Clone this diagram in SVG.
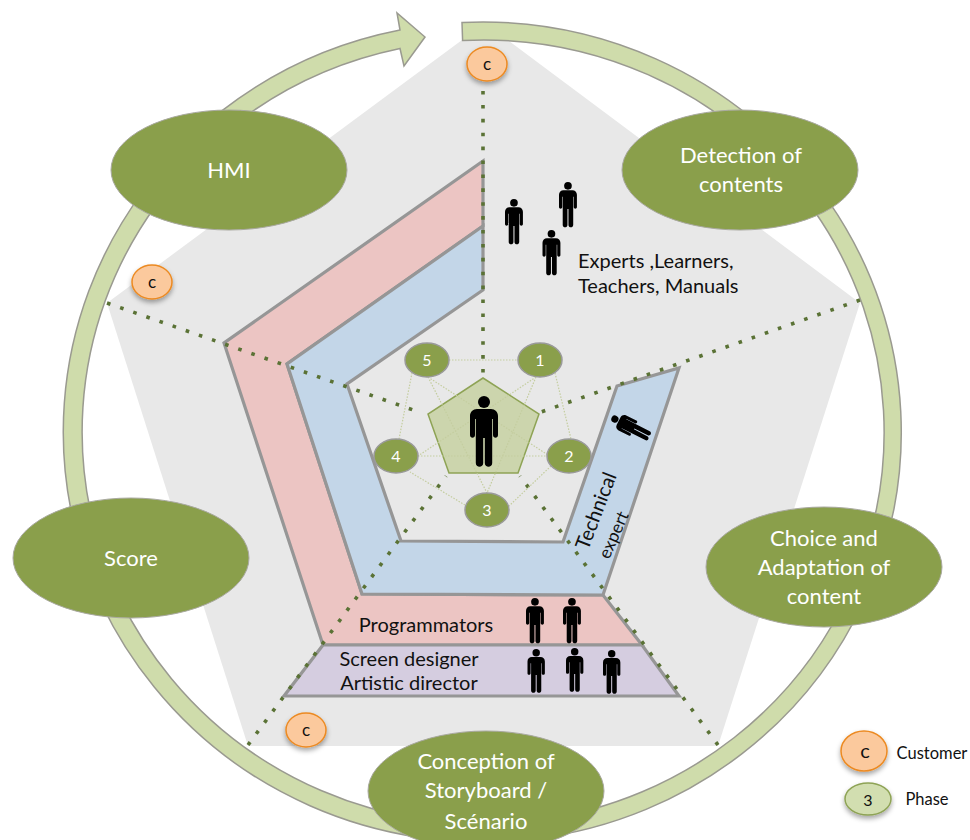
<svg xmlns="http://www.w3.org/2000/svg" width="970" height="840" viewBox="0 0 970 840">
<style>
text{font-family:Lato,"Liberation Sans",sans-serif;text-anchor:middle;fill:#111}
.big{fill:#8a9f4b;stroke:#a9a9a0;stroke-width:1}
.bigt{fill:#fff;font-size:22px}
.small{fill:#8a9f4b;stroke:#9a9a9a;stroke-width:1.5}
.smallt{fill:#fff;font-size:16px}
.cust{fill:#fbc99d;stroke:#ec8a22;stroke-width:1.5;filter:url(#sh)}
.band{stroke:#969696;stroke-width:3.2;stroke-linejoin:miter}
.lbl{font-size:20px}
.dots{fill:none;stroke:#5a7235;stroke-width:3.6;stroke-dasharray:3.6 10.3}
.thin{fill:none;stroke:#c4cd9f;stroke-width:1.2;stroke-dasharray:1.5 1.5}
</style>
<defs>
<filter id="sh" x="-30%" y="-30%" width="160%" height="170%"><feDropShadow dx="0" dy="3" stdDeviation="2.5" flood-color="#000" flood-opacity=".35"/></filter>
<g id="man">
<circle cx="14" cy="6" r="6" fill="#000"/>
<path fill="#000" d="M7,13H21C25,13 28,16 28,20V39C28,42.500 23,42.500 23,39V23H22.200V67C22.200,72 14.800,72 14.800,67V42H13.200V67C13.200,72 5.800,72 5.800,67V23H5V39C5,42.500 0,42.500 0,39V20C0,16 3,13 7,13Z"/>
</g>
</defs>
<polygon id="backdrop" fill="#e8e8e8" points="485,23 860,303 718,746 248,746 107,303"/>
<g id="cycle-arrow"><path fill="#cfdcab" stroke="#9a9a90" stroke-width="1.5" d="M462,22.500A419,410 0 1 1 400,30L397,13L425,37L404,66L400,48.500A401,392 0 1 0 462.600,40.500Z"/></g>
<g id="band-pink"><polygon class="band" fill="#ecc5c3" points="483,161 224,343 323,645 642,645 603,595 362,594 287,364 483,226"/></g>
<g id="band-blue"><polygon class="band" fill="#c3d6e8" points="483,226 287,364 362,594 603,595 679,368 617,386 563,542 401,541 347,384 483,290"/></g>
<g id="band-purple"><polygon class="band" fill="#d5cde0" points="323,645 284,696 679,696 642,645"/></g>
<g id="connectors">
<path class="dots" d="M483,91V376"/>
<path class="dots" d="M860,300L541,412"/>
<path class="dots" d="M718,745L520,476"/>
<path class="dots" d="M248,745L446,476"/>
<path class="dots" d="M107,303L419,412"/>
</g>
<g id="center"><polygon fill="#ccd5ad" stroke="#8ea355" stroke-width="1.5" points="483,378 539,414 518,473 449,473 428,414"/></g>
<g id="phase-links"><path class="thin" d="M449,360H518M555,373L571,439M551,466L509,506M465,505L410,472M399,439L412,373M428,377L487,493M428,377L548,455M536,377L487,493M536,377L418,456M418,456H547"/></g>
<g id="center-person"><use href="#man" x="470" y="396"/></g>
<g id="phase-1"><ellipse class="small" cx="540" cy="360" rx="22" ry="17"/><text class="smallt" x="540" y="366">1</text></g>
<g id="phase-2"><ellipse class="small" cx="569" cy="456" rx="22" ry="17"/><text class="smallt" x="569" y="462">2</text></g>
<g id="phase-3"><ellipse class="small" cx="487" cy="510" rx="22" ry="17"/><text class="smallt" x="487" y="516">3</text></g>
<g id="phase-4"><ellipse class="small" cx="396" cy="456" rx="22" ry="17"/><text class="smallt" x="396" y="462">4</text></g>
<g id="phase-5"><ellipse class="small" cx="427" cy="360" rx="22" ry="17"/><text class="smallt" x="427" y="366">5</text></g>
<g id="hmi"><ellipse class="big" cx="229" cy="170" rx="118" ry="60"/><text class="bigt" x="229" y="178">HMI</text></g>
<g id="detection"><ellipse class="big" cx="740" cy="170" rx="118" ry="60"/><text class="bigt" x="741" y="163">Detection of</text><text class="bigt" x="741" y="192">contents</text></g>
<g id="choice"><ellipse class="big" cx="824" cy="567" rx="118" ry="60"/><text class="bigt" x="824" y="546">Choice and</text><text class="bigt" x="824" y="575">Adaptation of</text><text class="bigt" x="824" y="604">content</text></g>
<g id="score"><ellipse class="big" cx="131" cy="558" rx="118" ry="60"/><text class="bigt" x="131" y="566">Score</text></g>
<g id="conception"><ellipse class="big" cx="486" cy="791" rx="118" ry="60"/><text class="bigt" x="486" y="769">Conception of</text><text class="bigt" x="486" y="798">Storyboard /</text><text class="bigt" x="486" y="829">Scénario</text></g>
<g id="customer-top"><ellipse class="cust" cx="487" cy="64" rx="20" ry="17"/><text x="487" y="70" font-size="17">c</text></g>
<g id="customer-left"><ellipse class="cust" cx="152" cy="282" rx="20" ry="17"/><text x="152" y="288" font-size="17">c</text></g>
<g id="customer-bottom"><ellipse class="cust" cx="306" cy="730" rx="20" ry="17"/><text x="306" y="736" font-size="17">c</text></g>
<g id="experts"><use href="#man" transform="translate(505,199) scale(.64)"/><use href="#man" transform="translate(559,182) scale(.64)"/><use href="#man" transform="translate(542.500,230) scale(.64)"/>
<text class="lbl" x="578" y="268" style="text-anchor:start">Experts ,Learners,</text><text class="lbl" x="578" y="293" style="text-anchor:start">Teachers, Manuals</text></g>
<g id="technical"><use href="#man" transform="translate(650,437) rotate(-63) translate(-8.400,-43) scale(.6)"/>
<text transform="translate(588,551) rotate(-69)" font-size="20" style="text-anchor:start">Technical</text><text transform="translate(609,560) rotate(-66)" font-size="17.500" style="text-anchor:start">expert</text></g>
<g id="programmators"><use href="#man" transform="translate(526,598) scale(.64)"/><use href="#man" transform="translate(563,598) scale(.64)"/><text class="lbl" x="426" y="632">Programmators</text></g>
<g id="designers"><use href="#man" transform="translate(527.500,649) scale(.62)"/><use href="#man" transform="translate(566,648) scale(.62)"/><use href="#man" transform="translate(603,650) scale(.62)"/><text class="lbl" x="409" y="666">Screen designer</text><text class="lbl" x="409" y="690">Artistic director</text></g>
<g id="legend-customer"><ellipse class="cust" cx="864" cy="751" rx="23" ry="20"/><text x="865" y="758" font-size="20">c</text><text x="932" y="759" font-size="16.500">Customer</text></g>
<g id="legend-phase"><ellipse cx="868" cy="799" rx="23" ry="16" fill="#d2deb0" stroke="#8ea355" stroke-width="1.5" filter="url(#sh)"/><text x="868" y="806" font-size="16">3</text><text x="927" y="805" font-size="16.500">Phase</text></g>
</svg>
